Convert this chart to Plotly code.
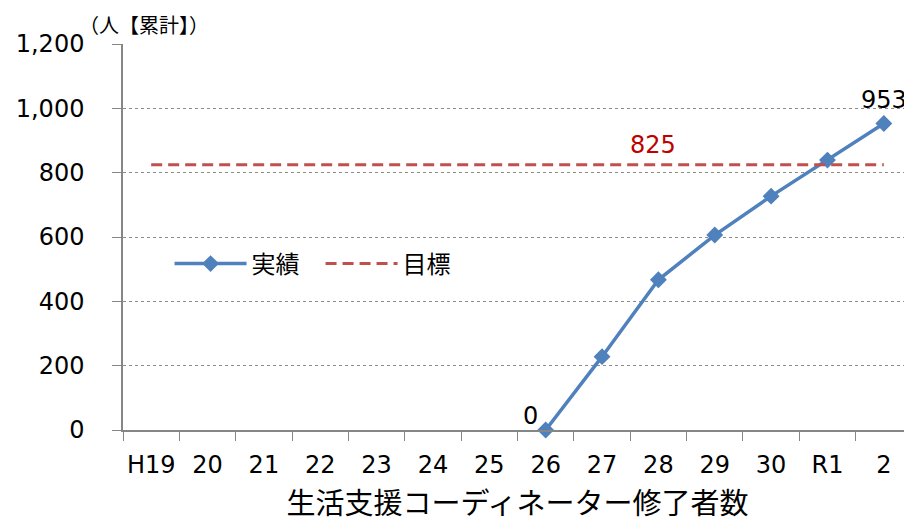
import plotly.graph_objects as go

categories = ["H19", "20", "21", "22", "23", "24", "25", "26", "27", "28", "29", "30", "R1", "2"]
actual = [None, None, None, None, None, None, None, 0, 228, 467, 606, 727, 839, 953]
target = [825] * len(categories)
actual_labels = ["", "", "", "", "", "", "", "", "", "", "", "", "", "953"]
zero_label_cat = "26"
target_label_cat = "28"
y_ticks = [0, 200, 400, 600, 800, 1000, 1200]
y_ticktext = ["0", "200", "400", "600", "800", "1,000", "1,200"]

FONT = "DejaVu Sans, Noto Sans CJK JP, sans-serif"
JFONT = "Noto Sans CJK JP, DejaVu Sans, sans-serif"

# The page body has an 8px default margin, so the figure is 8px smaller
fig = go.Figure()
fig.add_trace(go.Scatter(
    x=categories, y=actual, name="実績", mode="lines+markers+text",
    line=dict(color="#4F81BD", width=3.5),
    marker=dict(symbol="diamond", size=13, color="#4F81BD"),
    text=actual_labels, textposition="top center",
    textfont=dict(size=24, color="#000000", family=FONT),
    cliponaxis=False,
))
fig.add_trace(go.Scatter(
    x=categories, y=target, name="目標", mode="lines",
    line=dict(color="#C0504D", width=3, dash="11px,6px"),
))
zi = categories.index(zero_label_cat)
fig.add_annotation(
    x=zi, y=actual[zi], text=str(actual[zi]), showarrow=False,
    xanchor="right", yanchor="middle", xshift=-6, yshift=14,
    font=dict(size=24, color="#000000", family=FONT),
)
fig.add_annotation(
    x=categories.index(target_label_cat), y=target[0], text=str(target[0]), showarrow=False,
    yanchor="bottom", yshift=4, xshift=-5,
    font=dict(size=24, color="#C00000", family=FONT),
)
fig.add_annotation(
    x=0.0, y=1.0, xref="paper", yref="paper", text="（人【累計】）",
    showarrow=False, xanchor="center", yanchor="bottom", xshift=21, yshift=3,
    font=dict(size=20, color="#000000", family=JFONT),
)

fig.update_layout(
    width=904, height=516,
    margin=dict(l=115, r=0, t=36, b=94, autoexpand=False),
    plot_bgcolor="white", paper_bgcolor="white",
    font=dict(family=FONT, size=24, color="#000000"),
    showlegend=True,
    legend=dict(
        orientation="h", x=0.059, y=0.43, xanchor="left", yanchor="middle",
        font=dict(size=24, family=JFONT), bgcolor="rgba(0,0,0,0)",
        itemwidth=72, entrywidth=64, entrywidthmode="pixels",
    ),
    xaxis=dict(
        type="category", showgrid=False, showline=True, linecolor="#868686", linewidth=1.5,
        ticks="outside", tickson="boundaries", ticklen=9, tickcolor="#868686",
        tickfont=dict(size=24, family=FONT), tickangle=0, automargin=False,
        ticklabelstandoff=12,
        range=[-0.5, len(categories) - 0.5],
        title=dict(text="生活支援コーディネーター修了者数", font=dict(size=29, family=JFONT), standoff=16),
    ),
    yaxis=dict(
        range=[0, 1200], tickvals=y_ticks, ticktext=y_ticktext,
        showgrid=True, gridcolor="#8C8C8C", griddash="dot", gridwidth=1,
        showline=True, linecolor="#868686", linewidth=1.5,
        ticks="outside", ticklen=9, tickcolor="#868686", automargin=False,
        ticklabelstandoff=23,
        tickfont=dict(size=24, family=FONT), zeroline=False,
    ),
)

fig.write_html("out.html")
